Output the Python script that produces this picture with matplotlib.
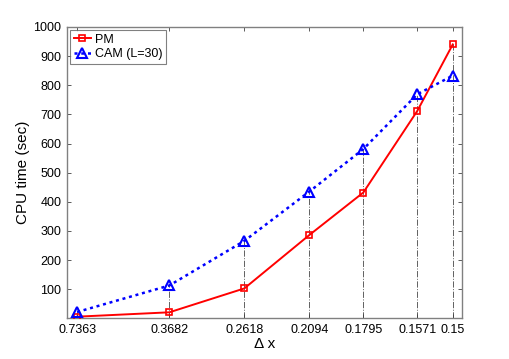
import numpy as np
import matplotlib
matplotlib.use('Agg')
import matplotlib.pyplot as plt

plt.rcParams['font.family'] = ['Liberation Sans', 'DejaVu Sans']

# Delta x values (last tick sits a bit left of 1/0.15 in the original)
dx = [0.7363, 0.3682, 0.2618, 0.2094, 0.1795, 0.1571, 0.1452]
dx_labels = ['0.7363', '0.3682', '0.2618', '0.2094', '0.1795', '0.1571', '0.15']

# CPU times (sec)
pm = [6, 21, 103, 286, 432, 712, 940]
cam = [22, 113, 266, 435, 581, 769, 833]

x = 1.0 / np.array(dx)

fig = plt.figure(figsize=(5.1, 3.59), dpi=100)
ax = fig.add_axes([0.131, 0.113, 0.775, 0.812])

# dash-dot guides down from the upper point
for xi, a, b in zip(x, pm, cam):
    ax.plot([xi, xi], [0, max(a, b)], color='#606060', lw=0.7, ls='-.', zorder=1)

ax.plot(x, pm, color='red', lw=1.4, marker='s', ms=5, mfc='none', mew=1.2,
        label='PM', zorder=3)
ax.plot(x, cam, color='blue', lw=1.8, ls=(0, (1.2, 1.5)), marker='^', ms=7, mfc='none',
        mew=1.5, label='CAM (L=30)', zorder=3)

ax.set_xlim(1.207, 7.024)
ax.set_ylim(0, 1000)
ax.set_xticks(x)
ax.set_xticklabels(dx_labels)
ax.set_yticks(np.arange(100, 1001, 100))

ax.tick_params(direction='in', top=True, right=True, labelsize=9, length=3, width=0.6,
               color='#404040', pad=4)
for s in ax.spines.values():
    s.set_color('#808080')
    s.set_linewidth(1.0)

ax.set_xlabel('\u0394 x', fontsize=11, labelpad=1)
ax.set_ylabel('CPU time (sec)', fontsize=11, labelpad=2)

leg = ax.legend(loc='upper left', fontsize=9, frameon=True, fancybox=False,
                borderpad=0.3, handlelength=1.4, handletextpad=0.3,
                borderaxespad=0.25, labelspacing=0.2)
leg.get_frame().set_edgecolor('#606060')
leg.get_frame().set_linewidth(0.8)

fig.savefig('out.png', dpi=100)
